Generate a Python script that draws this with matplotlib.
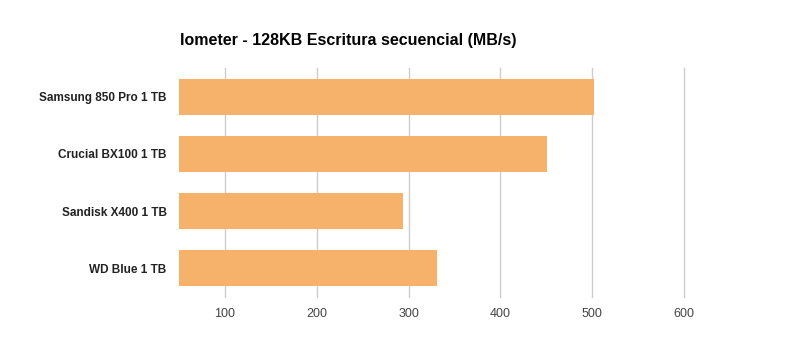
import matplotlib.pyplot as plt
import numpy as np

# data
drives = ["Samsung 850 Pro 1 TB", "Crucial BX100 1 TB", "Sandisk X400 1 TB", "WD Blue 1 TB"]
write_mbs = [502, 451, 294, 331]
x_ticks = [100, 200, 300, 400, 500, 600]

plt.rcParams['font.family'] = ['Liberation Sans', 'DejaVu Sans']

fig = plt.figure(figsize=(7.87, 3.51), dpi=100)
fig.patch.set_facecolor('#ffffff')
ax = fig.add_axes([179 / 787, 1 - 297 / 351, (684 - 179) / 787, (297 - 68) / 351])

y_pos = np.arange(len(drives))
ax.barh(y_pos, write_mbs, left=0, height=0.63, color='#f6b26b', zorder=2)

ax.set_xlim(50, 600)
ax.set_ylim(len(drives) - 0.5, -0.5)

ax.set_xticks(x_ticks)
ax.set_xticklabels([str(t) for t in x_ticks], fontsize=9, color='#444444')
ax.set_yticks(y_pos)
ax.set_yticklabels(drives, fontsize=8.5, fontweight='bold', color='#222222')
ax.tick_params(axis='both', length=0)
ax.tick_params(axis='y', pad=9)
ax.tick_params(axis='x', pad=8)

ax.grid(axis='x', color='#cccccc', linewidth=1, zorder=0)
ax.set_axisbelow(True)
for gl in ax.get_xgridlines():
    gl.set_clip_on(False)
for side in ['top', 'right', 'left', 'bottom']:
    ax.spines[side].set_visible(False)

fig.text(180 / 787, 1 - 40 / 351, 'Iometer - 128KB Escritura secuencial (MB/s)',
         fontsize=11.5, fontweight='bold', color='#000000', ha='left', va='center')

plt.savefig('out.png', dpi=100, facecolor=fig.get_facecolor())
plt.close()
